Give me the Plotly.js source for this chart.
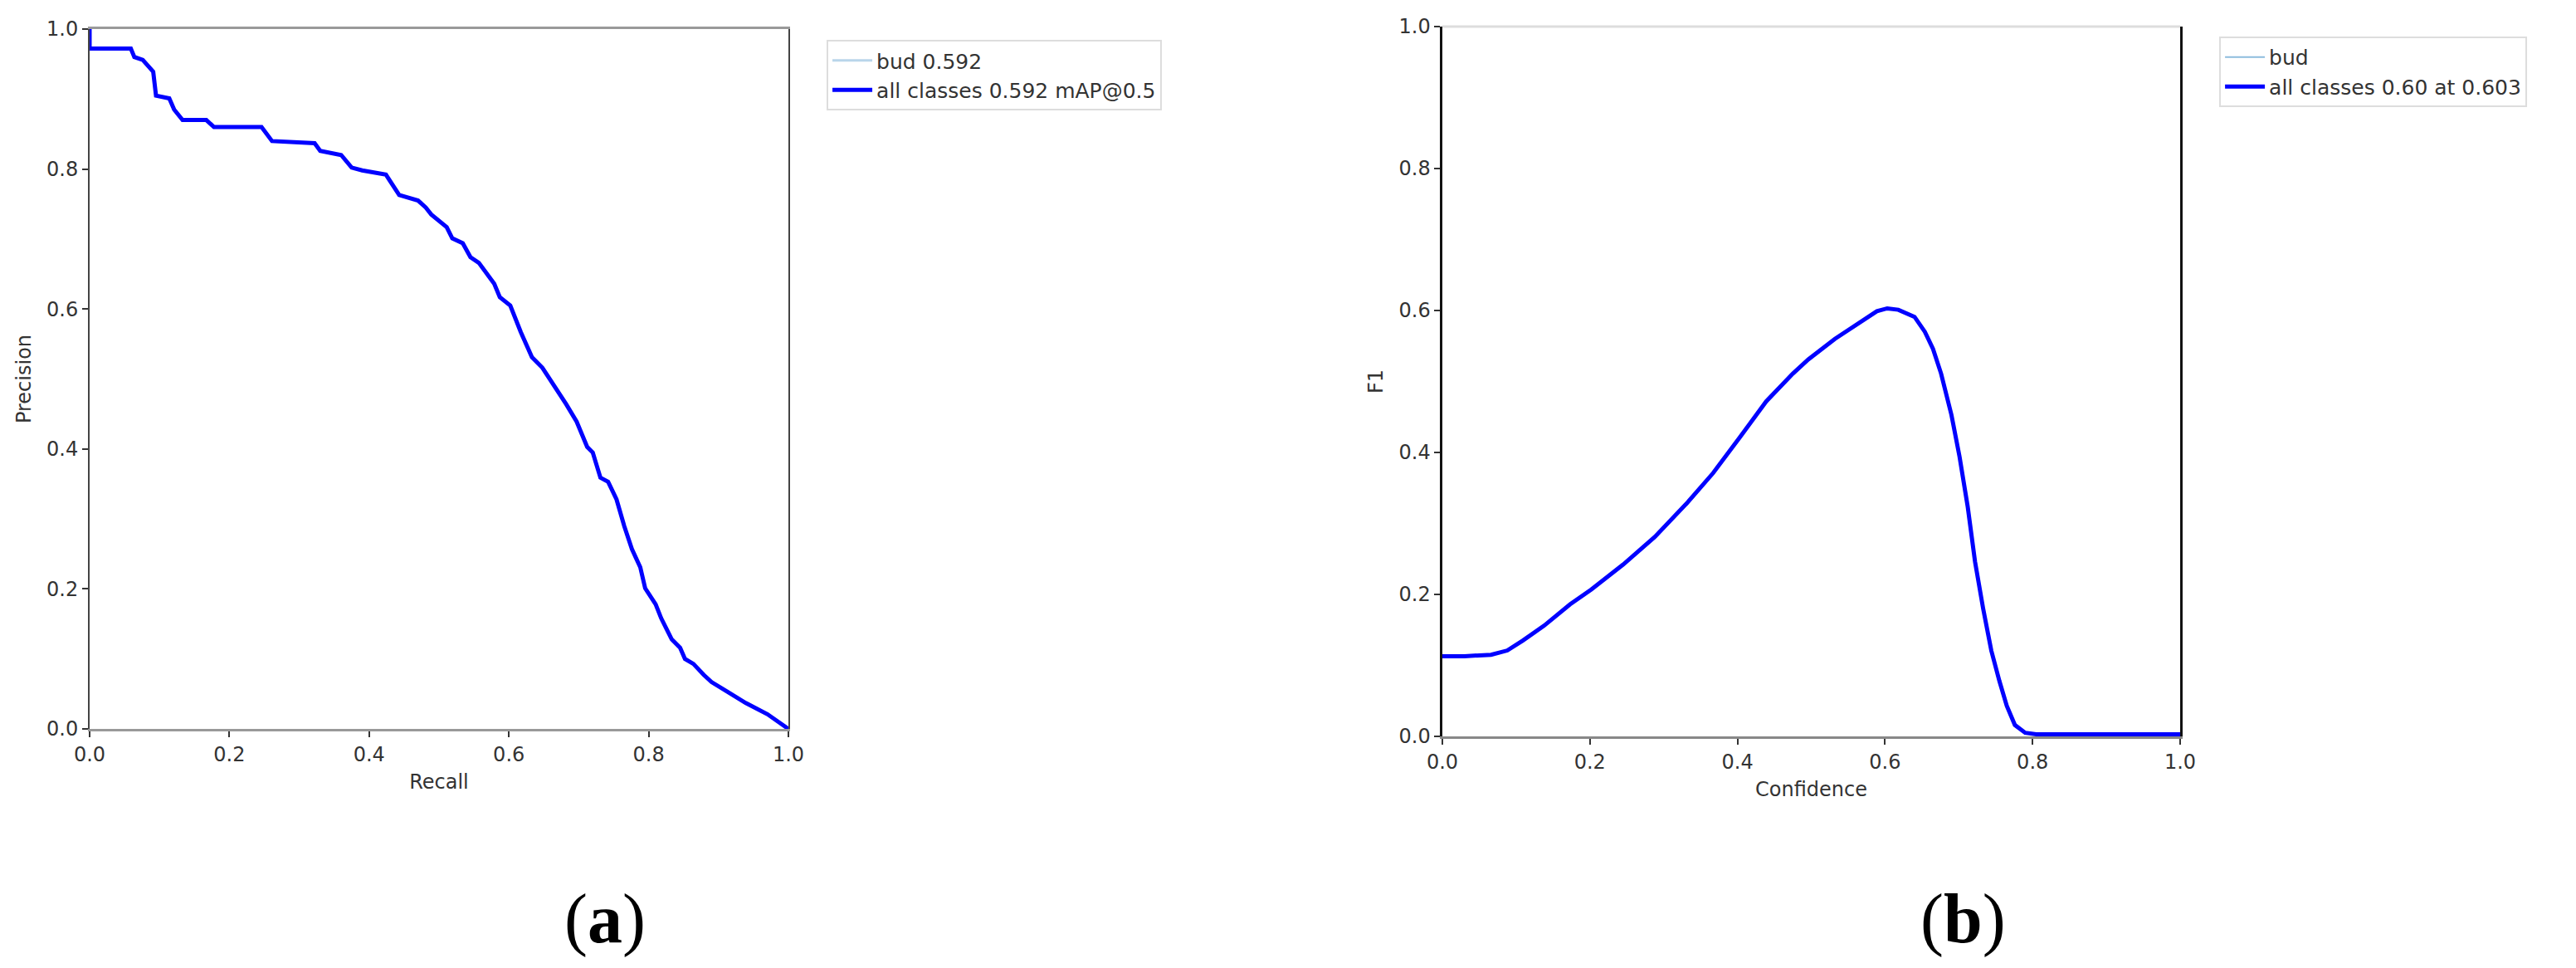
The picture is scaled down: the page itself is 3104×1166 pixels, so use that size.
<!DOCTYPE html>
<html>
<head>
<meta charset="utf-8">
<script src="https://cdn.plot.ly/plotly-3.0.1.min.js"></script>
<style>
  html, body { margin: 0; padding: 0; background: #fff; }
  #plot { width: 3104px; height: 1166px; }
</style>
</head>
<body>
<div id="plot"></div>
<script>
// PR curve (steps kept as corner points)
var recall = [0, 0, 0.059, 0.064, 0.076, 0.091, 0.095, 0.114, 0.121, 0.133, 0.167, 0.178, 0.246, 0.261, 0.322,
  0.330, 0.360, 0.375, 0.390, 0.424, 0.443, 0.470, 0.481, 0.489, 0.511, 0.519, 0.534, 0.545, 0.557, 0.579,
  0.587, 0.602, 0.617, 0.633, 0.648, 0.663, 0.682, 0.697, 0.712, 0.720, 0.731, 0.742, 0.754, 0.765, 0.776,
  0.788, 0.795, 0.810, 0.818, 0.833, 0.845, 0.852, 0.864, 0.879, 0.890, 0.913, 0.939, 0.970, 0.996, 1.0];
var precision = [1.0, 0.972, 0.972, 0.960, 0.956, 0.939, 0.905, 0.901, 0.885, 0.870, 0.870, 0.860, 0.860, 0.840, 0.837,
  0.826, 0.820, 0.802, 0.798, 0.792, 0.763, 0.755, 0.745, 0.735, 0.717, 0.701, 0.694, 0.674, 0.666, 0.636,
  0.617, 0.605, 0.567, 0.531, 0.516, 0.494, 0.464, 0.439, 0.403, 0.395, 0.359, 0.353, 0.328, 0.290, 0.257,
  0.231, 0.201, 0.178, 0.158, 0.128, 0.116, 0.100, 0.093, 0.077, 0.067, 0.053, 0.037, 0.021, 0.004, 0.0];

// F1 vs confidence
var confidence = [0, 0.030, 0.066, 0.088, 0.109, 0.138, 0.173, 0.202, 0.245, 0.288, 0.331, 0.367, 0.403, 0.439,
  0.475, 0.496, 0.532, 0.568, 0.589, 0.603, 0.618, 0.640, 0.654, 0.665, 0.676, 0.690, 0.701, 0.712, 0.722,
  0.733, 0.744, 0.755, 0.765, 0.776, 0.790, 0.805, 0.900, 1.0];
var f1 = [0.113, 0.113, 0.115, 0.121, 0.135, 0.156, 0.186, 0.207, 0.242, 0.281, 0.328, 0.371, 0.421, 0.472,
  0.511, 0.531, 0.560, 0.585, 0.599, 0.603, 0.601, 0.591, 0.570, 0.546, 0.511, 0.453, 0.394, 0.324, 0.246,
  0.180, 0.121, 0.078, 0.043, 0.016, 0.005, 0.003, 0.003, 0.003];

var ticks = [0, 0.2, 0.4, 0.6, 0.8, 1.0];

var tickFont = {family: 'DejaVu Sans', size: 24, color: '#333'};

// traces for panel (a)
var pr_bud = {
  x: recall, y: precision, name: 'bud 0.592', legend: 'legend',
  mode: 'lines', type: 'scatter', line: {color: '#b9d5ea', width: 3}
};
var pr_all = {
  x: recall, y: precision, name: 'all classes 0.592 mAP@0.5', legend: 'legend',
  mode: 'lines', type: 'scatter', line: {color: '#0000ff', width: 5}
};

// traces for panel (b)
var f1_bud = {
  x: confidence, y: f1, name: 'bud', legend: 'legend2', xaxis: 'x2', yaxis: 'y2',
  mode: 'lines', type: 'scatter', line: {color: '#8dbcdd', width: 2}
};
var f1_all = {
  x: confidence, y: f1, name: 'all classes 0.60 at 0.603', legend: 'legend2', xaxis: 'x2', yaxis: 'y2',
  mode: 'lines', type: 'scatter', line: {color: '#0000ff', width: 5}
};

var data = [pr_bud, pr_all, f1_bud, f1_all];

function axis(domain, title, color, width, extra) {
  var a = {
    domain: domain, range: [0, 1], tickvals: ticks, tickformat: '.1f',
    showgrid: false, zeroline: false, showline: true, linecolor: color, linewidth: width,
    ticks: 'outside', ticklen: 7, tickwidth: 2, tickcolor: '#333',
    tickfont: tickFont,
    title: {text: title, font: {family: 'DejaVu Sans', size: 24, color: '#333'}, standoff: 12}
  };
  for (var k in extra) a[k] = extra[k];
  return a;
}

var legendBase = {
  xref: 'paper', yref: 'paper', xanchor: 'left', yanchor: 'top',
  bgcolor: '#fff', bordercolor: '#ddd', borderwidth: 2, itemwidth: 48,
  font: {family: 'DejaVu Sans', size: 25, color: '#333'}
};

var layout = {
  width: 3104, height: 1166,
  margin: {l: 0, r: 0, t: 0, b: 0},
  paper_bgcolor: '#fff', plot_bgcolor: '#fff',
  showlegend: true,
  xaxis: axis([0.03479, 0.30606], 'Recall', '#999', 3, {anchor: 'y', mirror: true}),
  yaxis: axis([0.24700, 0.96998], 'Precision', '#444', 2, {anchor: 'x', mirror: true}),
  xaxis2: axis([0.55992, 0.84633], 'Confidence', '#888', 3, {anchor: 'y2'}),
  yaxis2: axis([0.23928, 0.97256], 'F1', '#111', 2.5, {anchor: 'x2', mirror: true}),
  legend: Object.assign({x: 0.3209, y: 0.9588}, legendBase),
  legend2: Object.assign({x: 0.8615, y: 0.9623}, legendBase),
  shapes: [
    {type: 'line', xref: 'x2 domain', yref: 'y2 domain', x0: 0, x1: 1, y0: 1, y1: 1,
     line: {color: '#ddd', width: 3}}
  ],
  annotations: [
    {text: '(<b>a</b>)', x: 0.2349, y: 0.0506, xref: 'paper', yref: 'paper', showarrow: false,
     xanchor: 'center', yanchor: 'middle',
     font: {family: 'Liberation Serif', size: 84, color: '#000'}},
    {text: '(<b>b</b>)', x: 0.7622, y: 0.0506, xref: 'paper', yref: 'paper', showarrow: false,
     xanchor: 'center', yanchor: 'middle',
     font: {family: 'Liberation Serif', size: 84, color: '#000'}}
  ]
};

Plotly.newPlot('plot', data, layout, {staticPlot: true});
</script>
</body>
</html>
